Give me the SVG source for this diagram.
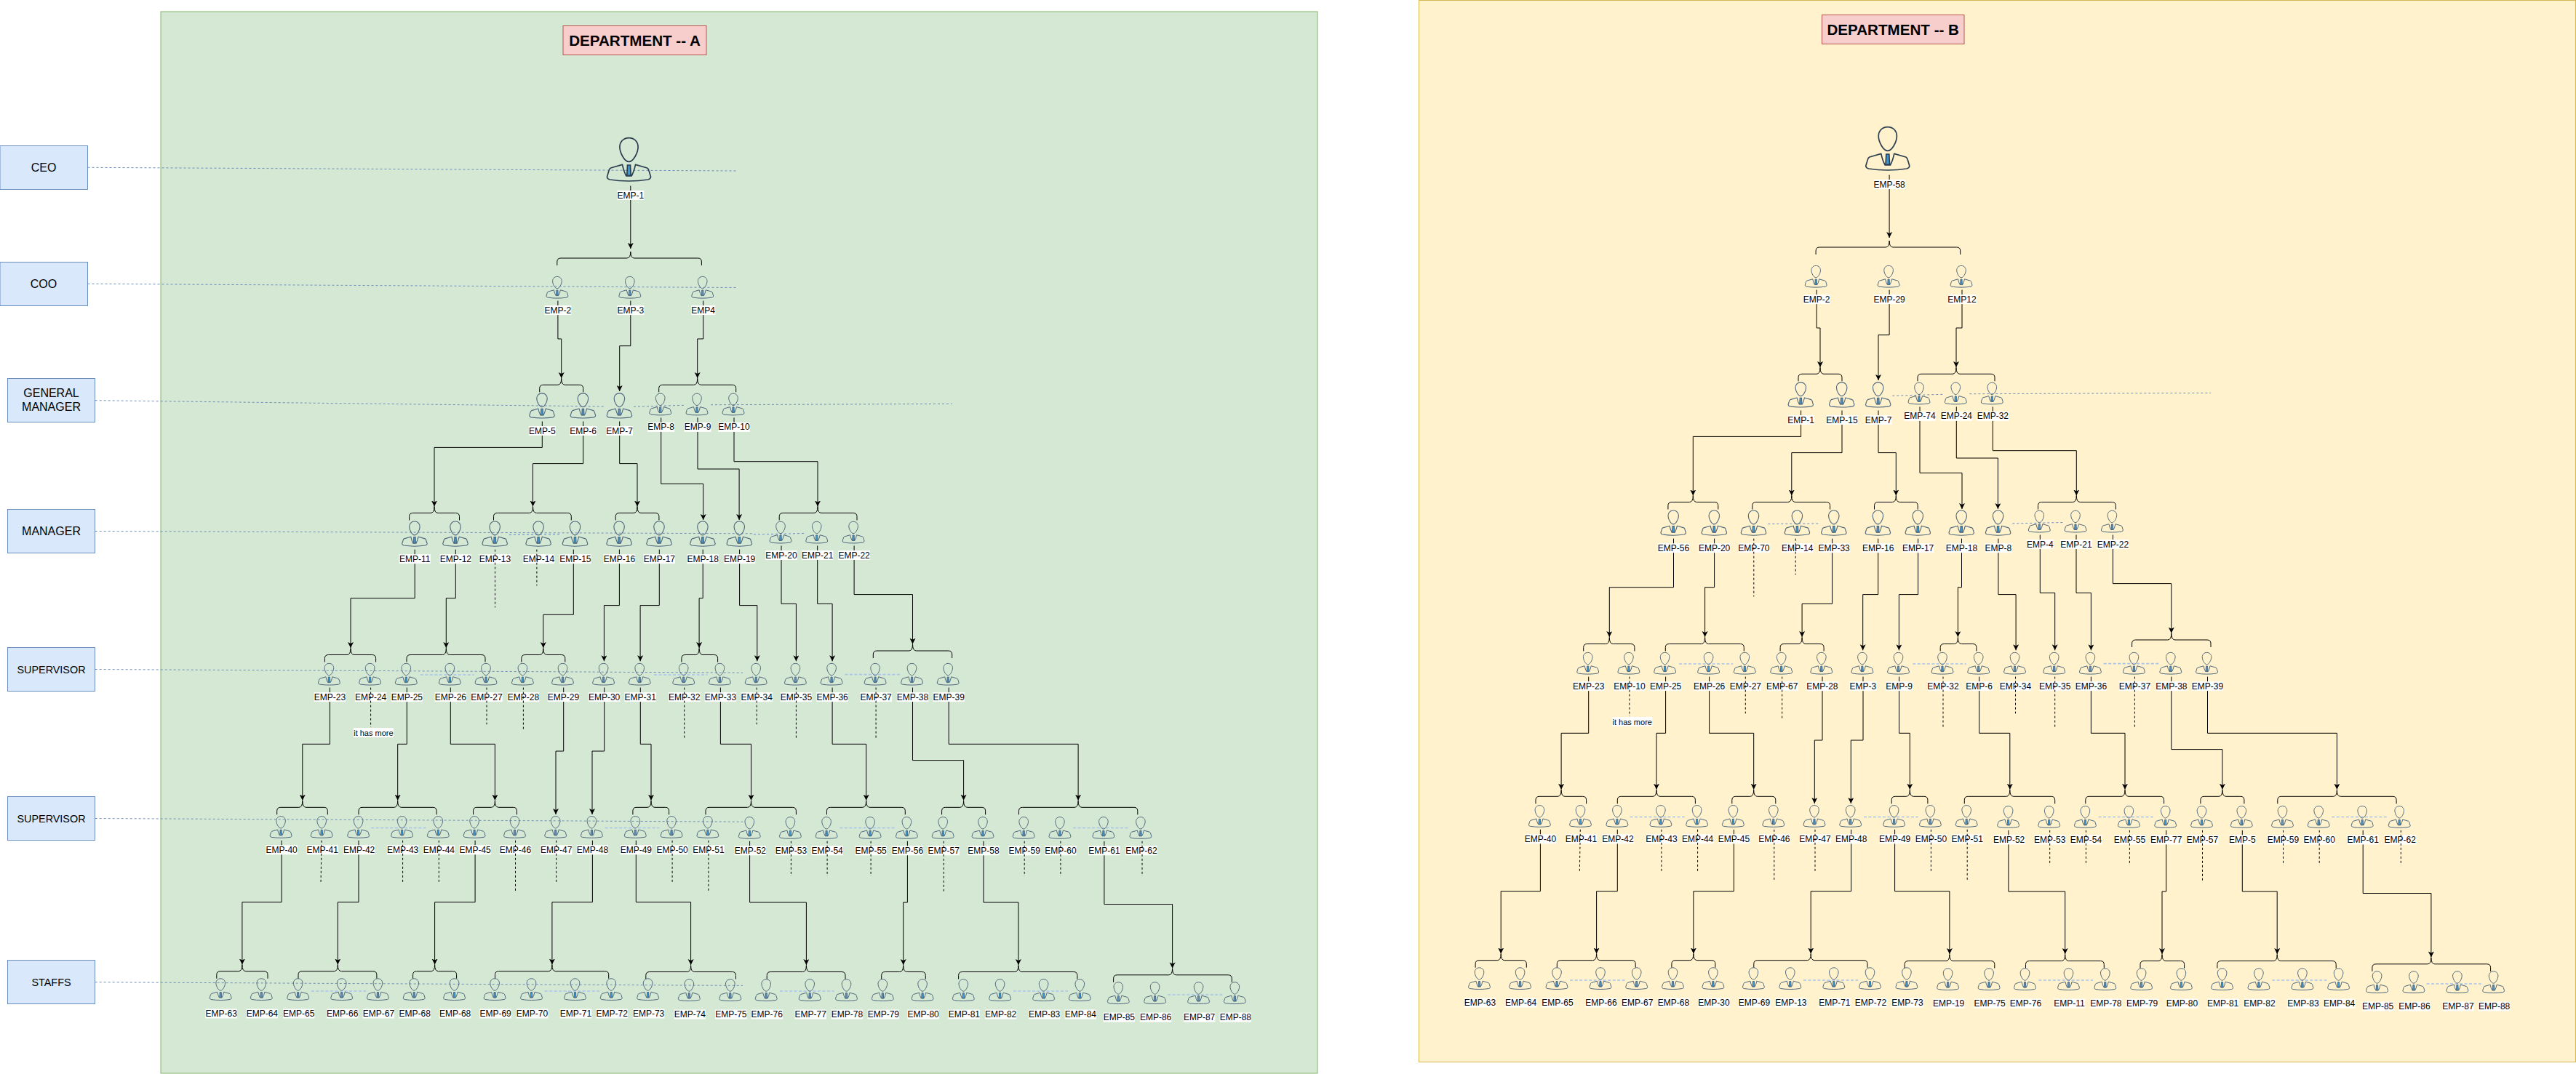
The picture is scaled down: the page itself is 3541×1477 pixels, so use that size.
<svg xmlns="http://www.w3.org/2000/svg" width="3541" height="1477" viewBox="0 0 3541 1477">
<style>
text{font-family:"Liberation Sans",Arial,sans-serif;fill:#000;text-anchor:middle;dominant-baseline:central}
.nodes text{font-size:12px}
.lw{fill:#fff}
.pl{fill:none;stroke-linejoin:round}
.tie{fill:#3a9ad9}
.sm{stroke:#50687c;stroke-width:1}
.big{stroke:#2c3e50;stroke-width:.85}
.tier{fill:#dae8fc;stroke:#6c8ebf;stroke-width:1}
.tier text{font-size:16px;stroke:none}
.tier text.s{font-size:14.4px}
.title rect{fill:#f8cecc;stroke:#b85450;stroke-width:1}
.title text{font-size:20.6px;font-weight:bold}
.sol path{fill:none;stroke:#000;stroke-width:1;marker-end:url(#arr)}
.br path{fill:none;stroke:#000;stroke-width:1}
.das path{fill:none;stroke:#000;stroke-width:1;stroke-dasharray:3 3}
.bl path{fill:none;stroke:#6c8ebf;stroke-width:1;stroke-dasharray:3 3}
.li path{fill:none;stroke:#a9c4eb;stroke-width:1.6;stroke-dasharray:4 2.5}
</style>
<defs>
<marker id="arr" markerUnits="userSpaceOnUse" markerWidth="10" markerHeight="10" refX="8" refY="4" orient="auto"><path d="M0 0L8 4L0 8L2 4Z" fill="#000"/></marker>
<g id="p"><path class="pl" d="M0-29.7C4.2-29.7 6.3-26.5 6.3-23.5C6.3-19.5 3-13.3 0-13.3C-3-13.3-6.3-19.5-6.3-23.5C-6.3-26.5-4.2-29.7 0-29.7Z"/><path class="pl" d="M-4.5-11.3L-12.5-9Q-13.5-8.5-13.8-7L-15-3Q-15-1.5-13-1Q-7 0 0 0Q7 0 13-1Q15-1.5 15-3L13.8-7Q13.5-8.5 12.5-9L4.5-11.3Q3.5-6.5 1.8-3.5L-1.8-3.5Q-3.5-6.5-4.5-11.3Z"/><path class="tie" d="M-1-11L1-11L1.1-8.5L1.4-3.8L-1.4-3.8L-1.1-8.5Z"/></g>
<use id="n" href="#p" class="sm" transform="translate(-1 -16.5)"/>
<use id="s" href="#p" class="sm" transform="translate(-1 -18.5)"/>
<use id="L" href="#p" class="sm" transform="translate(-.3 -17.5) scale(1.15)"/>
<use id="C" href="#p" class="big" transform="translate(-2.3 -19.5) scale(2)"/>
<rect id="w" class="lw" x="-21.7" y="-6.5" width="43.4" height="13"/>
<rect id="v" class="lw" x="-18.4" y="-6.5" width="36.8" height="13"/>
</defs>
<rect id="dept-a" x="221" y="16" width="1590" height="1460" fill="#d5e8d4" stroke="#82b366"/>
<rect id="dept-b" x="1950.5" y=".5" width="1590" height="1460" fill="#fff2cc" stroke="#d6b656"/>
<g id="title-a" class="title"><rect x="774" y="35.5" width="197" height="40"/><text x="872.5" y="55.5">DEPARTMENT -- A</text></g>
<g id="title-b" class="title"><rect x="2504.5" y="20.5" width="195.5" height="40"/><text x="2602.2" y="40.5">DEPARTMENT -- B</text></g>
<g id="tier-ceo" class="tier"><rect x="0" y="200.5" width="120.5" height="60"/><text x="60" y="230.5">CEO</text></g>
<g id="tier-coo" class="tier"><rect x="0" y="360.5" width="120.5" height="60"/><text x="60" y="390.5">COO</text></g>
<g id="tier-gm" class="tier"><rect x="10.5" y="520.5" width="120" height="60"/><text x="70.5" y="540.7">GENERAL</text><text x="70.5" y="559.3">MANAGER</text></g>
<g id="tier-manager" class="tier"><rect x="10.5" y="700.5" width="120" height="60"/><text x="70.5" y="730.5">MANAGER</text></g>
<g id="tier-sup1" class="tier"><rect x="10.5" y="890.5" width="120" height="60"/><text class="s" x="70.5" y="920.5">SUPERVISOR</text></g>
<g id="tier-sup2" class="tier"><rect x="10.5" y="1095.5" width="120" height="60"/><text class="s" x="70.5" y="1125.5">SUPERVISOR</text></g>
<g id="tier-staffs" class="tier"><rect x="10.5" y="1320.5" width="120" height="60"/><text class="s" x="70.5" y="1350.5">STAFFS</text></g>
<g id="tier-lines" class="bl">
<path d="M120.5 230.3L1011.5 235"/><path d="M120.5 390.3L1011.5 395.5"/><path d="M130.7 550.7L830 559"/><path d="M130.7 730.5L1036 733.8"/><path d="M130.7 920.5L1021 925.2"/><path d="M130.7 1125.5L1021 1130.2"/><path d="M130.7 1350.7L1021 1355.4"/>
</g>
<g id="connectors-a">
<g class="bl"><path d="M871 559.3L941 557.3"/><path d="M977 556.7L1308.8 555.4"/><path d="M700 735.6L771 735"/><path d="M1036 735L1105 733.5"/></g>
<g class="li"><path d="M577.8 928H651.8"/><path d="M899 928H972.6"/><path d="M1161.4 927.6H1237"/><path d="M510.2 1138.5H585.5"/><path d="M831.6 1138.5H906.3"/><path d="M1154.3 1138.5H1229.6"/><path d="M1475 1138.5H1550.4"/><path d="M427.9 1363H503.2"/><path d="M748.7 1363H824"/><path d="M1072 1363H1146.7"/><path d="M1392.9 1363H1468.1"/><path d="M1605.2 1368H1680.5"/></g>
<g class="br">
<path d="M765.8 365v-5q0-5 5-5H861.8q5 0 5-9q0 9 5 9H959.4q5 0 5 5v5"/>
<path d="M741.7 539.3v-5q0-5 5-5H766.7q5 0 5-9q0 9 5 9H796.7q5 0 5 5v5"/>
<path d="M905.7 539.3v-5q0-5 5-5H953.7q5 0 5-9q0 9 5 9H1006.7q5 0 5 5v5"/>
<path d="M562.6 715.5v-5q0-5 5-5H592q5 0 5-9q0 9 5 9H626.5q5 0 5 5v5"/>
<path d="M678.5 715.5v-5q0-5 5-5H727.5q5 0 5-9q0 9 5 9H780.3q5 0 5 5v5"/>
<path d="M846.2 715.5v-5q0-5 5-5H871q5 0 5-9q0 9 5 9H900.9q5 0 5 5v5"/>
<path d="M1071.2 715.5v-5q0-5 5-5H1119q5 0 5-9q0 9 5 9H1173q5 0 5 5v5"/>
<path d="M446.4 910.5v-5q0-5 5-5H477q5 0 5-9q0 9 5 9H511.6q5 0 5 5v5"/>
<path d="M559 910.5v-5q0-5 5-5H608.3q5 0 5-9q0 9 5 9H662q5 0 5 5v5"/>
<path d="M716.8 910.5v-5q0-5 5-5H741.8q5 0 5-9q0 9 5 9H771.8q5 0 5 5v5"/>
<path d="M936.9 910.5v-5q0-5 5-5H956.1q5 0 5-9q0 9 5 9H981.6q5 0 5 5v5"/>
<path d="M1200.3 905v-5q0-5 5-5H1249.5q5 0 5-9q0 9 5 9H1303.7q5 0 5 5v5"/>
<path d="M380.7 1120.3v-5q0-5 5-5H410.8q5 0 5-9q0 9 5 9H445.3q5 0 5 5v5"/>
<path d="M493 1120.3v-5q0-5 5-5H541.7q5 0 5-9q0 9 5 9H595.1q5 0 5 5v5"/>
<path d="M650.5 1120.3v-5q0-5 5-5H675.4q5 0 5-9q0 9 5 9H705.5q5 0 5 5v5"/>
<path d="M869.9 1120.3v-5q0-5 5-5H890q5 0 5-9q0 9 5 9H914.6q5 0 5 5v5"/>
<path d="M970 1120.3v-5q0-5 5-5H1027.5q5 0 5-9q0 9 5 9H1089.4q5 0 5 5v5"/>
<path d="M1136.5 1120.3v-5q0-5 5-5H1185.7q5 0 5-9q0 9 5 9H1239.3q5 0 5 5v5"/>
<path d="M1294.6 1120.3v-5q0-5 5-5H1319.6q5 0 5-9q0 9 5 9H1349.6q5 0 5 5v5"/>
<path d="M1400.5 1120.3v-5q0-5 5-5H1477.1q5 0 5-9q0 9 5 9H1558.8q5 0 5 5v5"/>
<path d="M297.8 1345.7v-5q0-5 5-5H327.9q5 0 5-9q0 9 5 9H363q5 0 5 5v5"/>
<path d="M410 1345.7v-5q0-5 5-5H459.3q5 0 5-9q0 9 5 9H512.9q5 0 5 5v5"/>
<path d="M567.6 1345.7v-5q0-5 5-5H592.6q5 0 5-9q0 9 5 9H622.6q5 0 5 5v5"/>
<path d="M680.5 1345.7v-5q0-5 5-5H753.9q5 0 5-9q0 9 5 9H831.7q5 0 5 5v5"/>
<path d="M887.8 1346.5v-5q0-5 5-5H944.6q5 0 5-9q0 9 5 9H1006.5q5 0 5 5v5"/>
<path d="M1054.2 1346.5v-5q0-5 5-5H1103.4q5 0 5-9q0 9 5 9H1157q5 0 5 5v5"/>
<path d="M1211.7 1346.5v-5q0-5 5-5H1236.7q5 0 5-9q0 9 5 9H1267.3q5 0 5 5v5"/>
<path d="M1317.6 1346.5v-5q0-5 5-5H1394.9q5 0 5-9q0 9 5 9H1475.9q5 0 5 5v5"/>
<path d="M1530.6 1350.8v-5q0-5 5-5H1606.6q5 0 5-9q0 9 5 9H1688.3q5 0 5 5v5"/>
</g>
<g class="sol">
<path d="M866.8 255.5V342"/>
<path d="M766.9 413.6V466H771.7V520"/>
<path d="M866.8 413.6V475.7H851.7V538"/>
<path d="M966.7 413.6V466H958.7V520"/>
<path d="M745.3 579.5V615.4H597V696.5"/>
<path d="M801.7 579.5V637.6H732.5V696.5"/>
<path d="M851.7 579.5V637.6H876V696.5"/>
<path d="M908.7 574.4V665.4H966.7V715"/>
<path d="M959 574.4V645H1016.1V715"/>
<path d="M1009 574.4V634.7H1124V696.5"/>
<path d="M570.2 755.7V822.7H482V891"/>
<path d="M626.3 755.7V822.7H613.3V891"/>
<path d="M788.3 755.7V845.3H746.8V891"/>
<path d="M851.4 755.7V832.6H830.4V909.3"/>
<path d="M906.3 755.7V832.6H880.1V909.3"/>
<path d="M966.2 755.7V822.7H961.1V891"/>
<path d="M1016.6 755.7V832.6H1040.8V909.3"/>
<path d="M1074 750.5V830.3H1094.4V909.3"/>
<path d="M1123.7 750.5V830.3H1144.1V909.3"/>
<path d="M1174.1 750.5V817.6H1254.5V885.7"/>
<path d="M453.4 945.6V1023.3H415.8V1100.7"/>
<path d="M559.3 945.6V1023.3H546.7V1100.7"/>
<path d="M619.3 945.6V1023.3H680.4V1100.7"/>
<path d="M774.7 945.6V1033H764V1120"/>
<path d="M830.7 945.6V1033H814V1120"/>
<path d="M880.3 945.6V1023.3H895V1100.7"/>
<path d="M990.4 945.6V1023.3H1032.5V1100.7"/>
<path d="M1144.1 945.6V1023.3H1190.7V1100.7"/>
<path d="M1254.5 945.6V1045.6H1324.6V1100.7"/>
<path d="M1304.2 945.6V1023.3H1482.1V1100.7"/>
<path d="M387.1 1155.8V1240.7H332.9V1326.5"/>
<path d="M493 1155.8V1240.7H464.3V1326.5"/>
<path d="M653.1 1155.8V1240.7H597.6V1326.5"/>
<path d="M814.4 1155.8V1240.7H758.9V1326.5"/>
<path d="M874.3 1155.8V1240.7H949.6V1327"/>
<path d="M1030.6 1156.8V1241H1108.4V1327"/>
<path d="M1247.4 1156.8V1241H1241.7V1327"/>
<path d="M1352 1156.8V1241H1399.9V1327"/>
<path d="M1517.9 1156.8V1243.5H1611.6V1331.4"/>
</g>
</g>
<g id="connectors-b"><use href="#connectors-a" x="1730.3" y="-15"/></g>
<g id="nodes-a" class="nodes">
<g id="a1" transform="translate(866.8 268.5)"><use href="#C"/><use href="#v"/><text>EMP-1</text></g>
<g id="a2" transform="translate(766.9 426.6)"><use href="#n"/><use href="#v"/><text>EMP-2</text></g>
<g id="a3" transform="translate(866.8 426.6)"><use href="#n"/><use href="#v"/><text>EMP-3</text></g>
<g id="a4" transform="translate(966.7 426.6)"><use href="#n"/><rect class="lw" x="-16.5" y="-6.5" width="33" height="13"/><text>EMP4</text></g>
<g id="a5" transform="translate(745.3 592.5)"><use href="#L"/><use href="#v"/><text>EMP-5</text></g>
<g id="a6" transform="translate(801.7 592.5)"><use href="#L"/><use href="#v"/><text>EMP-6</text></g>
<g id="a7" transform="translate(851.7 592.5)"><use href="#L"/><use href="#v"/><text>EMP-7</text></g>
<g id="a8" transform="translate(908.7 587.4)"><use href="#n"/><use href="#v"/><text>EMP-8</text></g>
<g id="a9" transform="translate(959 587.4)"><use href="#n"/><use href="#v"/><text>EMP-9</text></g>
<g id="a10" transform="translate(1009 587.4)"><use href="#n"/><use href="#w"/><text>EMP-10</text></g>
<g id="a11" transform="translate(570.2 768.7)"><use href="#L"/><use href="#w"/><text>EMP-11</text></g>
<g id="a12" transform="translate(626.3 768.7)"><use href="#L"/><use href="#w"/><text>EMP-12</text></g>
<g id="a13" transform="translate(680.5 768.7)"><use href="#L"/><use href="#w"/><text>EMP-13</text></g>
<g id="a14" transform="translate(740.4 768.7)"><use href="#L"/><use href="#w"/><text>EMP-14</text></g>
<g id="a15" transform="translate(790.8 768.7)"><use href="#L"/><use href="#w"/><text>EMP-15</text></g>
<g id="a16" transform="translate(851.4 768.7)"><use href="#L"/><use href="#w"/><text>EMP-16</text></g>
<g id="a17" transform="translate(906.3 768.7)"><use href="#L"/><use href="#w"/><text>EMP-17</text></g>
<g id="a18" transform="translate(966.2 768.7)"><use href="#L"/><use href="#w"/><text>EMP-18</text></g>
<g id="a19" transform="translate(1016.6 768.7)"><use href="#L"/><use href="#w"/><text>EMP-19</text></g>
<g id="a20" transform="translate(1074 763.5)"><use href="#n"/><use href="#w"/><text>EMP-20</text></g>
<g id="a21" transform="translate(1123.7 763.5)"><use href="#n"/><use href="#w"/><text>EMP-21</text></g>
<g id="a22" transform="translate(1174.1 763.5)"><use href="#n"/><use href="#w"/><text>EMP-22</text></g>
<g id="a23" transform="translate(453.4 958.6)"><use href="#n"/><use href="#w"/><text>EMP-23</text></g>
<g id="a24" transform="translate(509.6 958.6)"><use href="#n"/><use href="#w"/><text>EMP-24</text></g>
<g id="a25" transform="translate(559.3 958.6)"><use href="#n"/><use href="#w"/><text>EMP-25</text></g>
<g id="a26" transform="translate(619.3 958.6)"><use href="#n"/><use href="#w"/><text>EMP-26</text></g>
<g id="a27" transform="translate(669 958.6)"><use href="#n"/><use href="#w"/><text>EMP-27</text></g>
<g id="a28" transform="translate(719.4 958.6)"><use href="#n"/><use href="#w"/><text>EMP-28</text></g>
<g id="a29" transform="translate(774.5 958.6)"><use href="#n"/><use href="#w"/><text>EMP-29</text></g>
<g id="a30" transform="translate(830.6 958.6)"><use href="#n"/><use href="#w"/><text>EMP-30</text></g>
<g id="a31" transform="translate(880.2 958.6)"><use href="#n"/><use href="#w"/><text>EMP-31</text></g>
<g id="a32" transform="translate(940.7 958.6)"><use href="#n"/><use href="#w"/><text>EMP-32</text></g>
<g id="a33" transform="translate(990.4 958.6)"><use href="#n"/><use href="#w"/><text>EMP-33</text></g>
<g id="a34" transform="translate(1040.2 958.6)"><use href="#n"/><use href="#w"/><text>EMP-34</text></g>
<g id="a35" transform="translate(1094.4 958.6)"><use href="#n"/><use href="#w"/><text>EMP-35</text></g>
<g id="a36" transform="translate(1144.1 958.6)"><use href="#n"/><use href="#w"/><text>EMP-36</text></g>
<g id="a37" transform="translate(1204.1 958.6)"><use href="#n"/><use href="#w"/><text>EMP-37</text></g>
<g id="a38" transform="translate(1254.5 958.6)"><use href="#n"/><use href="#w"/><text>EMP-38</text></g>
<g id="a39" transform="translate(1304.2 958.6)"><use href="#n"/><use href="#w"/><text>EMP-39</text></g>
<g id="a40" transform="translate(387.1 1168.8)"><use href="#n"/><use href="#w"/><text>EMP-40</text></g>
<g id="a41" transform="translate(443.2 1168.8)"><use href="#n"/><use href="#w"/><text>EMP-41</text></g>
<g id="a42" transform="translate(493.6 1168.8)"><use href="#n"/><use href="#w"/><text>EMP-42</text></g>
<g id="a43" transform="translate(553.6 1168.8)"><use href="#n"/><use href="#w"/><text>EMP-43</text></g>
<g id="a44" transform="translate(603.3 1168.8)"><use href="#n"/><use href="#w"/><text>EMP-44</text></g>
<g id="a45" transform="translate(653.1 1168.8)"><use href="#n"/><use href="#w"/><text>EMP-45</text></g>
<g id="a46" transform="translate(708.5 1168.8)"><use href="#n"/><use href="#w"/><text>EMP-46</text></g>
<g id="a47" transform="translate(764.7 1168.8)"><use href="#n"/><use href="#w"/><text>EMP-47</text></g>
<g id="a48" transform="translate(814.4 1168.8)"><use href="#n"/><use href="#w"/><text>EMP-48</text></g>
<g id="a49" transform="translate(874.3 1168.8)"><use href="#n"/><use href="#w"/><text>EMP-49</text></g>
<g id="a50" transform="translate(924.1 1168.8)"><use href="#n"/><use href="#w"/><text>EMP-50</text></g>
<g id="a51" transform="translate(973.9 1168.8)"><use href="#n"/><use href="#w"/><text>EMP-51</text></g>
<g id="a52" transform="translate(1031.3 1169.8)"><use href="#n"/><use href="#w"/><text>EMP-52</text></g>
<g id="a53" transform="translate(1087.4 1169.8)"><use href="#n"/><use href="#w"/><text>EMP-53</text></g>
<g id="a54" transform="translate(1137.1 1169.8)"><use href="#n"/><use href="#w"/><text>EMP-54</text></g>
<g id="a55" transform="translate(1197.1 1169.8)"><use href="#n"/><use href="#w"/><text>EMP-55</text></g>
<g id="a56" transform="translate(1247.4 1169.8)"><use href="#n"/><use href="#w"/><text>EMP-56</text></g>
<g id="a57" transform="translate(1297.2 1169.8)"><use href="#n"/><use href="#w"/><text>EMP-57</text></g>
<g id="a58" transform="translate(1352 1169.8)"><use href="#n"/><use href="#w"/><text>EMP-58</text></g>
<g id="a59" transform="translate(1408.2 1169.8)"><use href="#n"/><use href="#w"/><text>EMP-59</text></g>
<g id="a60" transform="translate(1457.9 1169.8)"><use href="#n"/><use href="#w"/><text>EMP-60</text></g>
<g id="a61" transform="translate(1517.9 1169.8)"><use href="#n"/><use href="#w"/><text>EMP-61</text></g>
<g id="a62" transform="translate(1568.9 1169.8)"><use href="#n"/><use href="#w"/><text>EMP-62</text></g>
<g id="a63" transform="translate(304.2 1394)"><use href="#s"/><use href="#w"/><text>EMP-63</text></g>
<g id="a64" transform="translate(360.3 1394)"><use href="#s"/><use href="#w"/><text>EMP-64</text></g>
<g id="a65" transform="translate(410.7 1394)"><use href="#s"/><use href="#w"/><text>EMP-65</text></g>
<g id="a66" transform="translate(470.7 1394)"><use href="#s"/><use href="#w"/><text>EMP-66</text></g>
<g id="a67" transform="translate(520.4 1394)"><use href="#s"/><use href="#w"/><text>EMP-67</text></g>
<g id="a68" transform="translate(570.2 1394)"><use href="#s"/><use href="#w"/><text>EMP-68</text></g>
<g id="a68b" transform="translate(625.6 1394)"><use href="#s"/><use href="#w"/><text>EMP-68</text></g>
<g id="a69" transform="translate(681.1 1394)"><use href="#s"/><use href="#w"/><text>EMP-69</text></g>
<g id="a70" transform="translate(731.5 1394)"><use href="#s"/><use href="#w"/><text>EMP-70</text></g>
<g id="a71" transform="translate(791.5 1394)"><use href="#s"/><use href="#w"/><text>EMP-71</text></g>
<g id="a72" transform="translate(841.2 1394)"><use href="#s"/><use href="#w"/><text>EMP-72</text></g>
<g id="a73" transform="translate(891.6 1394)"><use href="#s"/><use href="#w"/><text>EMP-73</text></g>
<g id="a74" transform="translate(948.3 1395)"><use href="#s"/><use href="#w"/><text>EMP-74</text></g>
<g id="a75" transform="translate(1004.8 1395)"><use href="#s"/><use href="#w"/><text>EMP-75</text></g>
<g id="a76" transform="translate(1054.2 1395)"><use href="#s"/><use href="#w"/><text>EMP-76</text></g>
<g id="a77" transform="translate(1114.2 1395)"><use href="#s"/><use href="#w"/><text>EMP-77</text></g>
<g id="a78" transform="translate(1164.5 1395)"><use href="#s"/><use href="#w"/><text>EMP-78</text></g>
<g id="a79" transform="translate(1214.3 1395)"><use href="#s"/><use href="#w"/><text>EMP-79</text></g>
<g id="a80" transform="translate(1269.1 1395)"><use href="#s"/><use href="#w"/><text>EMP-80</text></g>
<g id="a81" transform="translate(1325.3 1395)"><use href="#s"/><use href="#w"/><text>EMP-81</text></g>
<g id="a82" transform="translate(1375.6 1395)"><use href="#s"/><use href="#w"/><text>EMP-82</text></g>
<g id="a83" transform="translate(1435.6 1395)"><use href="#s"/><use href="#w"/><text>EMP-83</text></g>
<g id="a84" transform="translate(1485.3 1395)"><use href="#s"/><use href="#w"/><text>EMP-84</text></g>
<g id="a85" transform="translate(1538.3 1399)"><use href="#s"/><use href="#w"/><text>EMP-85</text></g>
<g id="a86" transform="translate(1588.6 1399)"><use href="#s"/><use href="#w"/><text>EMP-86</text></g>
<g id="a87" transform="translate(1648.6 1399)"><use href="#s"/><use href="#w"/><text>EMP-87</text></g>
<g id="a88" transform="translate(1698.3 1399)"><use href="#s"/><use href="#w"/><text>EMP-88</text></g>
<g id="a-note" transform="translate(513.4 1007.5)"><rect class="lw" x="-27.5" y="-6.5" width="55" height="13"/><text style="font-size:11px">it has more</text></g>
</g>
<g id="nodes-b" class="nodes" transform="translate(1730.3 -15)">
<g id="b1" transform="translate(866.8 268.5)"><use href="#C"/><use href="#w"/><text>EMP-58</text></g>
<g id="b2" transform="translate(766.9 426.6)"><use href="#n"/><use href="#v"/><text>EMP-2</text></g>
<g id="b3" transform="translate(866.8 426.6)"><use href="#n"/><use href="#w"/><text>EMP-29</text></g>
<g id="b4" transform="translate(966.7 426.6)"><use href="#n"/><rect class="lw" x="-19.7" y="-6.5" width="39.4" height="13"/><text>EMP12</text></g>
<g id="b5" transform="translate(745.3 592.5)"><use href="#L"/><use href="#v"/><text>EMP-1</text></g>
<g id="b6" transform="translate(801.7 592.5)"><use href="#L"/><use href="#w"/><text>EMP-15</text></g>
<g id="b7" transform="translate(851.7 592.5)"><use href="#L"/><use href="#v"/><text>EMP-7</text></g>
<g id="b8" transform="translate(908.7 587.4)"><use href="#n"/><use href="#w"/><text>EMP-74</text></g>
<g id="b9" transform="translate(959 587.4)"><use href="#n"/><use href="#w"/><text>EMP-24</text></g>
<g id="b10" transform="translate(1009 587.4)"><use href="#n"/><use href="#w"/><text>EMP-32</text></g>
<g id="b11" transform="translate(570.2 768.7)"><use href="#L"/><use href="#w"/><text>EMP-56</text></g>
<g id="b12" transform="translate(626.3 768.7)"><use href="#L"/><use href="#w"/><text>EMP-20</text></g>
<g id="b13" transform="translate(680.5 768.7)"><use href="#L"/><use href="#w"/><text>EMP-70</text></g>
<g id="b14" transform="translate(740.4 768.7)"><use href="#L"/><use href="#w"/><text>EMP-14</text></g>
<g id="b15" transform="translate(790.8 768.7)"><use href="#L"/><use href="#w"/><text>EMP-33</text></g>
<g id="b16" transform="translate(851.4 768.7)"><use href="#L"/><use href="#w"/><text>EMP-16</text></g>
<g id="b17" transform="translate(906.3 768.7)"><use href="#L"/><use href="#w"/><text>EMP-17</text></g>
<g id="b18" transform="translate(966.2 768.7)"><use href="#L"/><use href="#w"/><text>EMP-18</text></g>
<g id="b19" transform="translate(1016.6 768.7)"><use href="#L"/><use href="#v"/><text>EMP-8</text></g>
<g id="b20" transform="translate(1074 763.5)"><use href="#n"/><use href="#v"/><text>EMP-4</text></g>
<g id="b21" transform="translate(1123.7 763.5)"><use href="#n"/><use href="#w"/><text>EMP-21</text></g>
<g id="b22" transform="translate(1174.1 763.5)"><use href="#n"/><use href="#w"/><text>EMP-22</text></g>
<g id="b23" transform="translate(453.4 958.6)"><use href="#n"/><use href="#w"/><text>EMP-23</text></g>
<g id="b24" transform="translate(509.6 958.6)"><use href="#n"/><use href="#w"/><text>EMP-10</text></g>
<g id="b25" transform="translate(559.3 958.6)"><use href="#n"/><use href="#w"/><text>EMP-25</text></g>
<g id="b26" transform="translate(619.3 958.6)"><use href="#n"/><use href="#w"/><text>EMP-26</text></g>
<g id="b27" transform="translate(669 958.6)"><use href="#n"/><use href="#w"/><text>EMP-27</text></g>
<g id="b28" transform="translate(719.4 958.6)"><use href="#n"/><use href="#w"/><text>EMP-67</text></g>
<g id="b29" transform="translate(774.5 958.6)"><use href="#n"/><use href="#w"/><text>EMP-28</text></g>
<g id="b30" transform="translate(830.6 958.6)"><use href="#n"/><use href="#v"/><text>EMP-3</text></g>
<g id="b31" transform="translate(880.2 958.6)"><use href="#n"/><use href="#v"/><text>EMP-9</text></g>
<g id="b32" transform="translate(940.7 958.6)"><use href="#n"/><use href="#w"/><text>EMP-32</text></g>
<g id="b33" transform="translate(990.4 958.6)"><use href="#n"/><use href="#v"/><text>EMP-6</text></g>
<g id="b34" transform="translate(1040.2 958.6)"><use href="#n"/><use href="#w"/><text>EMP-34</text></g>
<g id="b35" transform="translate(1094.4 958.6)"><use href="#n"/><use href="#w"/><text>EMP-35</text></g>
<g id="b36" transform="translate(1144.1 958.6)"><use href="#n"/><use href="#w"/><text>EMP-36</text></g>
<g id="b37" transform="translate(1204.1 958.6)"><use href="#n"/><use href="#w"/><text>EMP-37</text></g>
<g id="b38" transform="translate(1254.5 958.6)"><use href="#n"/><use href="#w"/><text>EMP-38</text></g>
<g id="b39" transform="translate(1304.2 958.6)"><use href="#n"/><use href="#w"/><text>EMP-39</text></g>
<g id="b40" transform="translate(387.1 1168.8)"><use href="#n"/><use href="#w"/><text>EMP-40</text></g>
<g id="b41" transform="translate(443.2 1168.8)"><use href="#n"/><use href="#w"/><text>EMP-41</text></g>
<g id="b42" transform="translate(493.6 1168.8)"><use href="#n"/><use href="#w"/><text>EMP-42</text></g>
<g id="b43" transform="translate(553.6 1168.8)"><use href="#n"/><use href="#w"/><text>EMP-43</text></g>
<g id="b44" transform="translate(603.3 1168.8)"><use href="#n"/><use href="#w"/><text>EMP-44</text></g>
<g id="b45" transform="translate(653.1 1168.8)"><use href="#n"/><use href="#w"/><text>EMP-45</text></g>
<g id="b46" transform="translate(708.5 1168.8)"><use href="#n"/><use href="#w"/><text>EMP-46</text></g>
<g id="b47" transform="translate(764.7 1168.8)"><use href="#n"/><use href="#w"/><text>EMP-47</text></g>
<g id="b48" transform="translate(814.4 1168.8)"><use href="#n"/><use href="#w"/><text>EMP-48</text></g>
<g id="b49" transform="translate(874.3 1168.8)"><use href="#n"/><use href="#w"/><text>EMP-49</text></g>
<g id="b50" transform="translate(924.1 1168.8)"><use href="#n"/><use href="#w"/><text>EMP-50</text></g>
<g id="b51" transform="translate(973.9 1168.8)"><use href="#n"/><use href="#w"/><text>EMP-51</text></g>
<g id="b52" transform="translate(1031.3 1169.8)"><use href="#n"/><use href="#w"/><text>EMP-52</text></g>
<g id="b53" transform="translate(1087.4 1169.8)"><use href="#n"/><use href="#w"/><text>EMP-53</text></g>
<g id="b54" transform="translate(1137.1 1169.8)"><use href="#n"/><use href="#w"/><text>EMP-54</text></g>
<g id="b55" transform="translate(1197.1 1169.8)"><use href="#n"/><use href="#w"/><text>EMP-55</text></g>
<g id="b56" transform="translate(1247.4 1169.8)"><use href="#n"/><use href="#w"/><text>EMP-77</text></g>
<g id="b57" transform="translate(1297.2 1169.8)"><use href="#n"/><use href="#w"/><text>EMP-57</text></g>
<g id="b58" transform="translate(1352 1169.8)"><use href="#n"/><use href="#v"/><text>EMP-5</text></g>
<g id="b59" transform="translate(1408.2 1169.8)"><use href="#n"/><use href="#w"/><text>EMP-59</text></g>
<g id="b60" transform="translate(1457.9 1169.8)"><use href="#n"/><use href="#w"/><text>EMP-60</text></g>
<g id="b61" transform="translate(1517.9 1169.8)"><use href="#n"/><use href="#w"/><text>EMP-61</text></g>
<g id="b62" transform="translate(1568.9 1169.8)"><use href="#n"/><use href="#w"/><text>EMP-62</text></g>
<g id="b63" transform="translate(304.2 1394)"><use href="#s"/><use href="#w"/><text>EMP-63</text></g>
<g id="b64" transform="translate(360.3 1394)"><use href="#s"/><use href="#w"/><text>EMP-64</text></g>
<g id="b65" transform="translate(410.7 1394)"><use href="#s"/><use href="#w"/><text>EMP-65</text></g>
<g id="b66" transform="translate(470.7 1394)"><use href="#s"/><use href="#w"/><text>EMP-66</text></g>
<g id="b67" transform="translate(520.4 1394)"><use href="#s"/><use href="#w"/><text>EMP-67</text></g>
<g id="b68" transform="translate(570.2 1394)"><use href="#s"/><use href="#w"/><text>EMP-68</text></g>
<g id="b68b" transform="translate(625.6 1394)"><use href="#s"/><use href="#w"/><text>EMP-30</text></g>
<g id="b69" transform="translate(681.1 1394)"><use href="#s"/><use href="#w"/><text>EMP-69</text></g>
<g id="b70" transform="translate(731.5 1394)"><use href="#s"/><use href="#w"/><text>EMP-13</text></g>
<g id="b71" transform="translate(791.5 1394)"><use href="#s"/><use href="#w"/><text>EMP-71</text></g>
<g id="b72" transform="translate(841.2 1394)"><use href="#s"/><use href="#w"/><text>EMP-72</text></g>
<g id="b73" transform="translate(891.6 1394)"><use href="#s"/><use href="#w"/><text>EMP-73</text></g>
<g id="b74" transform="translate(948.3 1395)"><use href="#s"/><use href="#w"/><text>EMP-19</text></g>
<g id="b75" transform="translate(1004.8 1395)"><use href="#s"/><use href="#w"/><text>EMP-75</text></g>
<g id="b76" transform="translate(1054.2 1395)"><use href="#s"/><use href="#w"/><text>EMP-76</text></g>
<g id="b77" transform="translate(1114.2 1395)"><use href="#s"/><use href="#w"/><text>EMP-11</text></g>
<g id="b78" transform="translate(1164.5 1395)"><use href="#s"/><use href="#w"/><text>EMP-78</text></g>
<g id="b79" transform="translate(1214.3 1395)"><use href="#s"/><use href="#w"/><text>EMP-79</text></g>
<g id="b80" transform="translate(1269.1 1395)"><use href="#s"/><use href="#w"/><text>EMP-80</text></g>
<g id="b81" transform="translate(1325.3 1395)"><use href="#s"/><use href="#w"/><text>EMP-81</text></g>
<g id="b82" transform="translate(1375.6 1395)"><use href="#s"/><use href="#w"/><text>EMP-82</text></g>
<g id="b83" transform="translate(1435.6 1395)"><use href="#s"/><use href="#w"/><text>EMP-83</text></g>
<g id="b84" transform="translate(1485.3 1395)"><use href="#s"/><use href="#w"/><text>EMP-84</text></g>
<g id="b85" transform="translate(1538.3 1399)"><use href="#s"/><use href="#w"/><text>EMP-85</text></g>
<g id="b86" transform="translate(1588.6 1399)"><use href="#s"/><use href="#w"/><text>EMP-86</text></g>
<g id="b87" transform="translate(1648.6 1399)"><use href="#s"/><use href="#w"/><text>EMP-87</text></g>
<g id="b88" transform="translate(1698.3 1399)"><use href="#s"/><use href="#w"/><text>EMP-88</text></g>
<g id="b-note" transform="translate(513.4 1007.5)"><rect class="lw" x="-27.5" y="-6.5" width="55" height="13"/><text style="font-size:11px">it has more</text></g>
</g>
<g id="dashes-a" class="das">
<path d="M680.5 755.7V835.4"/><path d="M737.9 755.7V805.4"/><path d="M509.6 945.6V1000"/><path d="M669 945.6V996.2"/><path d="M719.4 945.6V1005.6"/><path d="M940.7 945.6V1015"/><path d="M1040.2 945.6V996.2"/><path d="M1094.4 945.6V1015"/><path d="M1204.1 945.6V1015"/><path d="M442 1155.8L441 1215.8"/><path d="M553.6 1155.8V1215.8"/><path d="M603.3 1155.8V1215.8"/><path d="M708.5 1155.8V1225.7"/><path d="M764.7 1155.8V1215.8"/><path d="M924.1 1155.8V1215.8"/><path d="M973.9 1155.8V1225.7"/><path d="M1087.4 1156.8V1205"/><path d="M1137.1 1156.8V1205"/><path d="M1197.1 1156.8V1205"/><path d="M1297.2 1156.8V1225.7"/><path d="M1408.2 1156.8V1205"/><path d="M1457.9 1156.8V1205"/><path d="M1570 1156.8V1205"/>
</g>
<g id="dashes-b"><use href="#dashes-a" x="1730.3" y="-15"/></g>
</svg>
